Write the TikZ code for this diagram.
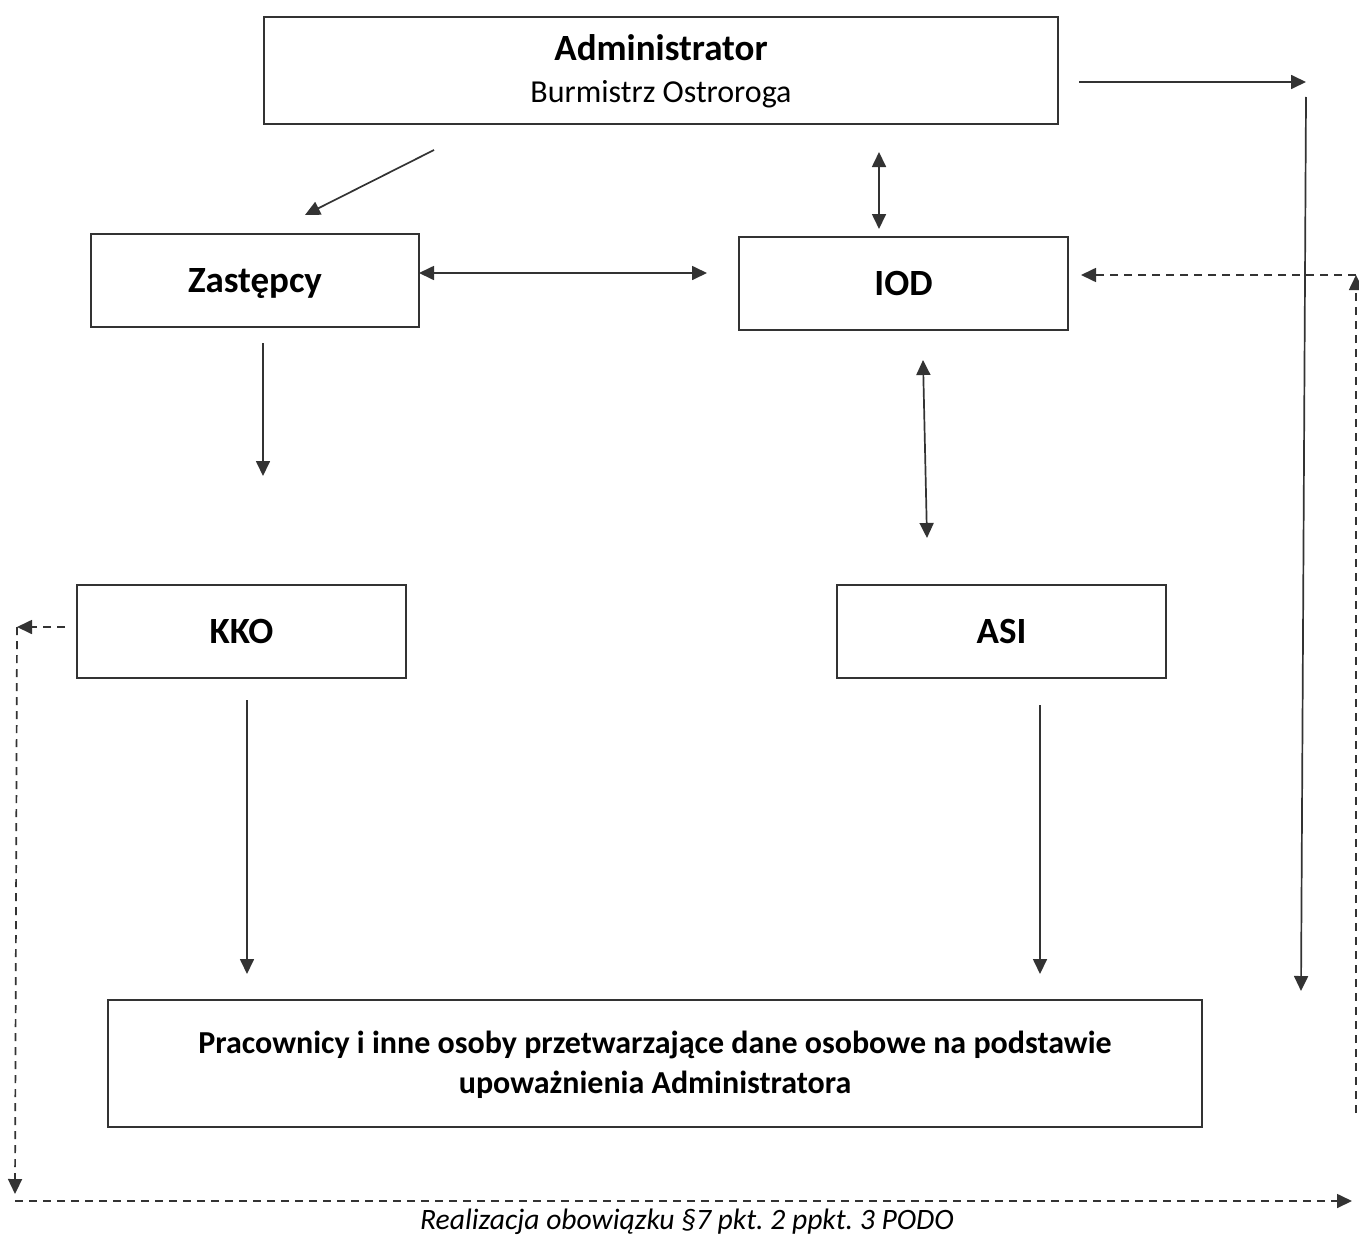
\documentclass[tikz,border=0pt]{standalone}
\usepackage{fontspec}
\setmainfont{Carlito}
\usetikzlibrary{arrows.meta}

\begin{document}
\begin{tikzpicture}[x = 0.5pt, y = -0.5pt]
	\tikzstyle{boxStyle} = [draw = black!80, line width = 0.7pt, inner sep = 0pt, align = center, font = \fontsize{18.5}{22}\selectfont\bfseries]
	\tikzstyle{arrowStyle} = [draw = black!80, line width = 0.85pt, -{Triangle[length = 7.5pt, width = 7pt]}]
	\tikzstyle{bothStyle} = [arrowStyle, {Triangle[length = 7.5pt, width = 7pt]}-{Triangle[length = 7.5pt, width = 7pt]}]
	\tikzstyle{dashStyle} = [arrowStyle, dash pattern = on 4pt off 3pt]
	\useasboundingbox (0,0) rectangle (1359,1236);
	% boxes
	\node[boxStyle, minimum width = 397pt, minimum height = 53.5pt] (admin) at (661,70.5) {\rule{0pt}{14pt}Administrator\\[-1pt]{\fontsize{16}{19}\selectfont\mdseries Burmistrz Ostroroga}};
	\node[boxStyle, minimum width = 164pt, minimum height = 46.5pt] (zast) at (255,280.5) {\rule{0pt}{15pt}Zastępcy};
	\node[boxStyle, minimum width = 164.5pt, minimum height = 46.5pt] (iod) at (903.5,283.5) {IOD};
	\node[boxStyle, minimum width = 164.5pt, minimum height = 46.5pt] (kko) at (241.5,631.5) {KKO};
	\node[boxStyle, minimum width = 164.5pt, minimum height = 46.5pt] (asi) at (1001.5,631.5) {ASI};
	\node[boxStyle, minimum width = 547pt, minimum height = 63.5pt, font = \fontsize{16}{20}\selectfont\bfseries] (prac) at (655,1063.5) {\rule{0pt}{13pt}Pracownicy i inne osoby przetwarzające dane osobowe na podstawie\\upoważnienia Administratora};
	% arrow ends
	\coordinate (a1) at (1079,82);
	\coordinate (a2) at (1306,82);
	\coordinate (b1) at (1306,97);
	\coordinate (b2) at (1301,991);
	\coordinate (c1) at (434,150);
	\coordinate (c2) at (305,215);
	\coordinate (d1) at (879,152);
	\coordinate (d2) at (879,229);
	\coordinate (e1) at (419,273);
	\coordinate (e2) at (707,273);
	\coordinate (f1) at (263,343);
	\coordinate (f2) at (263,476);
	\coordinate (g1) at (923,360);
	\coordinate (g2) at (927,538);
	\coordinate (h1) at (247,700);
	\coordinate (h2) at (247,974);
	\coordinate (i1) at (1040,705);
	\coordinate (i2) at (1040,974);
	\coordinate (r1) at (1356,1113);
	\coordinate (r2) at (1356,275);
	\coordinate (r3) at (1081,275);
	\coordinate (l1) at (65,627);
	\coordinate (l2) at (17,627);
	\coordinate (l3) at (15,1194);
	\coordinate (l4) at (15,1201);
	\coordinate (l5) at (1352,1201);
	\draw[arrowStyle] (a1) -- (a2);
	\draw[arrowStyle] (b1) -- (b2);
	\draw[arrowStyle] (c1) -- (c2);
	\draw[bothStyle] (d1) -- (d2);
	\draw[bothStyle] (e1) -- (e2);
	\draw[arrowStyle] (f1) -- (f2);
	\draw[bothStyle] (g1) -- (g2);
	\draw[arrowStyle] (h1) -- (h2);
	\draw[arrowStyle] (i1) -- (i2);
	\draw[dashStyle] (r1) -- (r2);
	\draw[dashStyle] (r2) -- (r3);
	\draw[dashStyle] (l1) -- (l2);
	\draw[dashStyle] (l2) -- (l3);
	\draw[dashStyle] (l4) -- (l5);
	\node[font = \fontsize{14.8}{18}\selectfont\itshape] (note) at (687,1222) {Realizacja obowiązku §7 pkt.\ 2 ppkt.\ 3 PODO};
\end{tikzpicture}
\end{document}
